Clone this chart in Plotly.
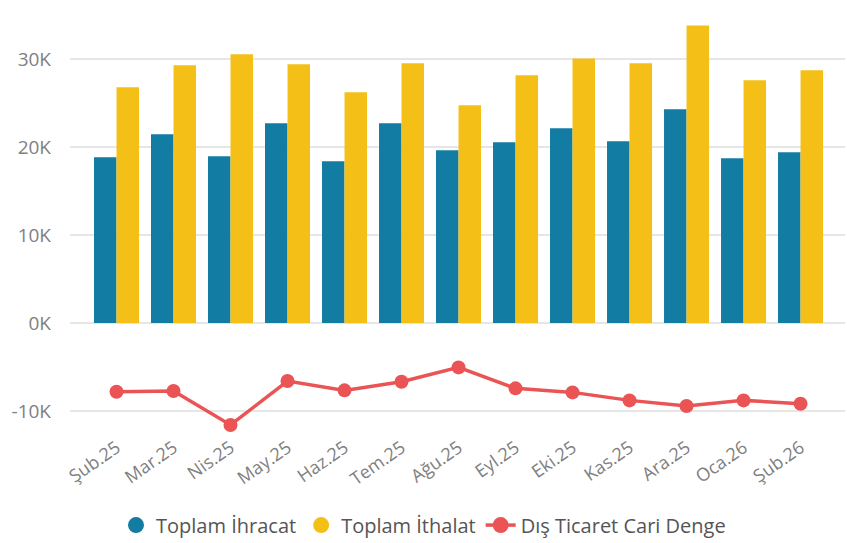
import plotly.graph_objects as go

# Monthly foreign trade figures (million USD)
months = ["Şub.25", "Mar.25", "Nis.25", "May.25", "Haz.25", "Tem.25", "Ağu.25",
          "Eyl.25", "Eki.25", "Kas.25", "Ara.25", "Oca.26", "Şub.26"]
ihracat = [18860, 21480, 18980, 22730, 18410, 22730, 19660,
           20570, 22160, 20680, 24320, 18750, 19430]
ithalat = [26820, 29320, 30570, 29430, 26250, 29550, 24770,
           28180, 30110, 29550, 33860, 27610, 28750]
denge = [-7800, -7730, -11590, -6590, -7650, -6670, -5040,
         -7420, -7880, -8790, -9430, -8790, -9170]

y_ticks = [-10000, 0, 10000, 20000, 30000]
y_tick_text = ["-10K", "0K", "10K", "20K", "30K"]

BLUE = "#137CA3"
YELLOW = "#F4C018"
RED = "#EA5455"
FONT = "Open Sans"

idx = list(range(len(months)))

fig = go.Figure()
fig.add_trace(go.Bar(x=idx, y=ihracat, name="Toplam İhracat", marker_color=BLUE,
                     marker_line_width=0, showlegend=False))
fig.add_trace(go.Bar(x=idx, y=ithalat, name="Toplam İthalat", marker_color=YELLOW,
                     marker_line_width=0, showlegend=False))
fig.add_trace(go.Scatter(x=idx, y=denge, name="Dış Ticaret Cari Denge", mode="lines+markers",
                         line=dict(color=RED, width=3.5),
                         marker=dict(color=RED, size=14), showlegend=False))

# legend entries with round swatches
fig.add_trace(go.Scatter(x=[None], y=[None], mode="markers", name="Toplam İhracat",
                         marker=dict(color=BLUE, size=20, symbol="circle")))
fig.add_trace(go.Scatter(x=[None], y=[None], mode="markers", name="Toplam İthalat",
                         marker=dict(color=YELLOW, size=20, symbol="circle")))
fig.add_trace(go.Scatter(x=[None], y=[None], mode="lines+markers", name="Dış Ticaret Cari Denge",
                         line=dict(color=RED, width=3.5),
                         marker=dict(color=RED, size=20, symbol="circle")))

fig.update_layout(
    width=847, height=543,
    margin=dict(l=70, r=2, t=11, b=110),
    paper_bgcolor="white", plot_bgcolor="white",
    barmode="group", bargap=0.21, bargroupgap=0,
    font=dict(family=FONT, color="#666666", size=18),
    legend=dict(orientation="h", xref="container", yref="container",
                x=0.5, xanchor="center", y=0.033, yanchor="middle",
                font=dict(family=FONT, size=20, color="#555555"),
                itemwidth=30, tracegroupgap=0),
    xaxis=dict(range=[-0.816, 12.78], tickmode="array", tickvals=idx, ticktext=months,
               tickangle=-35, showgrid=False, zeroline=False, showline=False,
               tickfont=dict(family=FONT, size=18, color="#808080"), ticks=""),
    yaxis=dict(range=[-12500, 35500], tickmode="array", tickvals=y_ticks, ticktext=y_tick_text,
               showgrid=True, gridcolor="#E6E6E6", gridwidth=1.5, zeroline=False,
               tickfont=dict(family=FONT, size=19, color="#808080"), ticks="",
               ticklabelstandoff=18),
)

fig.write_html("out.html")
